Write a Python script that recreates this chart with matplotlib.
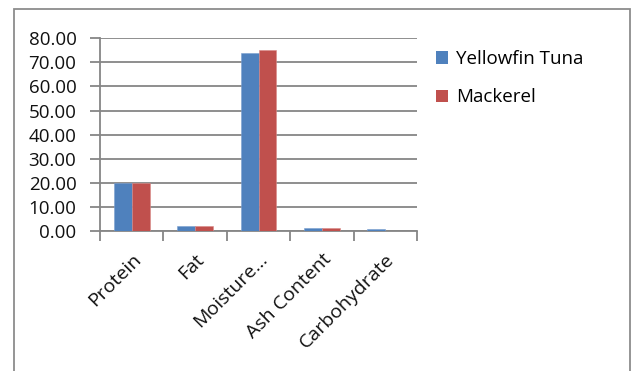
import matplotlib
matplotlib.use("Agg")
import matplotlib.pyplot as plt
import numpy as np
from matplotlib.patches import Rectangle, Patch

# Proximate composition (%)
categories = ["Protein", "Fat", "Moisture...", "Ash Content", "Carbohydrate"]
tuna = [20.0, 2.2, 74.1, 1.1, 0.8]
mackerel = [20.1, 2.0, 75.3, 1.4, 0.0]
series_names = ["Yellowfin Tuna", "Mackerel"]
y_ticks = [0, 10, 20, 30, 40, 50, 60, 70, 80]

W, H = 633, 371
fig = plt.figure(figsize=(W / 100, H / 100), dpi=100)
plt.rcParams["font.family"] = ["Open Sans", "DejaVu Sans"]

# chart frame (open at the bottom)
fig.patches.append(Rectangle((14 / W, -0.05), (630 - 14) / W, 1.05 - 9 / H,
                             transform=fig.transFigure, fill=False,
                             edgecolor="#8c8c8c", linewidth=1.3))

ax = fig.add_axes([100 / W, 1 - 231 / H, (417 - 100) / W, (231 - 38.3) / H])

grid_c = "#868686"
txt_c = "#111111"
x = np.arange(len(categories))
bw = 0.283
ax.bar(x - bw / 2, tuna, bw, color="#4F81BD", edgecolor="#7a9fd0", linewidth=0.4, zorder=3)
ax.bar(x + bw / 2, mackerel, bw, color="#C0504D", edgecolor="#d88a88", linewidth=0.4, zorder=3)

ax.set_xlim(-0.5, len(categories) - 0.5)
ax.set_ylim(0, 80)
ax.set_yticks(y_ticks)
ax.set_yticklabels([f"{v:.2f}" for v in y_ticks], fontsize=13.5, color=txt_c)
ax.yaxis.grid(True, color=grid_c, linewidth=1.3, zorder=0)
ax.set_axisbelow(True)

# category ticks at the boundaries, labels at the centres
ax.set_xticks(np.arange(len(categories) + 1) - 0.5)
ax.set_xticklabels([])
ax.set_xticks(x, minor=True)
ax.set_xticklabels(categories, minor=True, rotation=45, ha="right",
                   rotation_mode="anchor", fontsize=14, color=txt_c)
ax.tick_params(axis="x", which="minor", length=0, pad=14)
ax.tick_params(axis="x", which="major", length=7, width=1.3, color=grid_c)
ax.tick_params(axis="y", length=7, width=1.3, color=grid_c, pad=10)

for s in ["top", "right"]:
    ax.spines[s].set_visible(False)
for s in ["left", "bottom"]:
    ax.spines[s].set_color(grid_c)
    ax.spines[s].set_linewidth(1.3)

handles = [Patch(facecolor="#4F81BD"), Patch(facecolor="#C0504D")]
fig.legend(handles, series_names, loc="upper left",
           bbox_to_anchor=(419 / W, 1 - 33 / H), frameon=False,
           fontsize=13.5, handlelength=0.65, handleheight=0.65,
           handletextpad=0.45, labelspacing=1.1)

fig.savefig("out.png", dpi=100)
